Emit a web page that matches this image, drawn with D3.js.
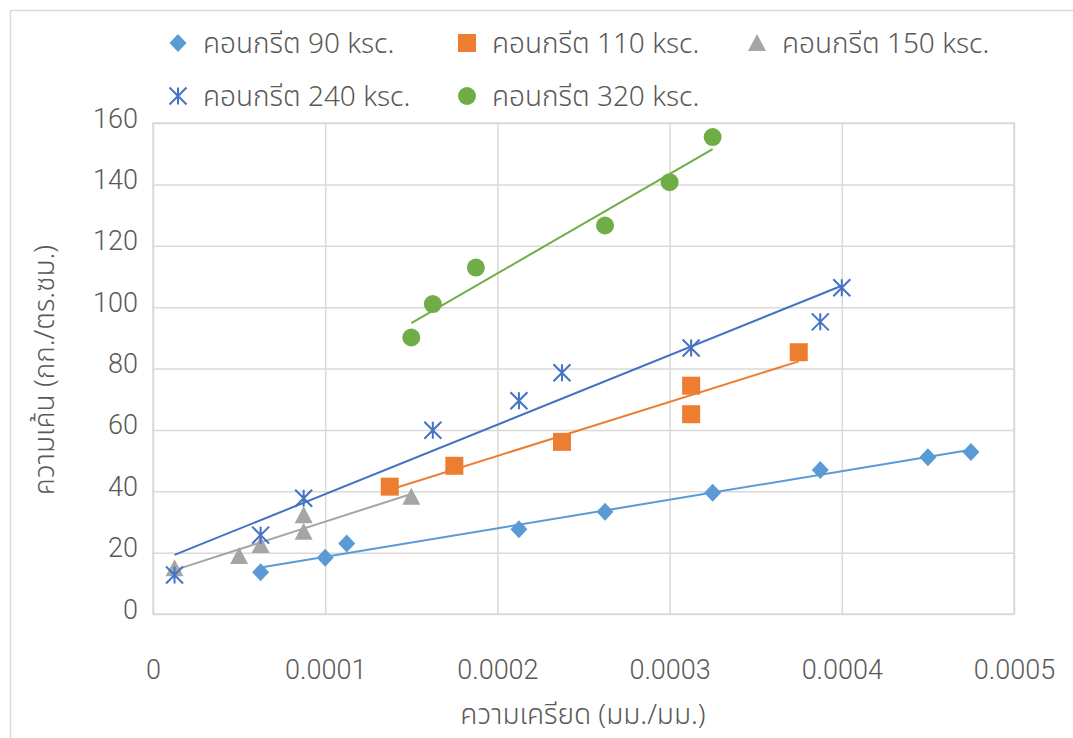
<!DOCTYPE html>
<html>
<head>
<meta charset="utf-8">
<script src="https://cdn.jsdelivr.net/npm/d3@7"></script>
<style>
  html, body { margin: 0; padding: 0; background: #ffffff; }
  svg { display: block; }
  .tick-label { font-family: Roboto, "Liberation Sans", Arial, sans-serif; font-weight: 300; font-size: 27px; fill: #595959; }
  .thai { font-family: "Noto Sans Thai", "Leelawadee UI", "Noto Sans", "DejaVu Sans", sans-serif; font-weight: 300; fill: #595959; }
</style>
</head>
<body>
<svg id="chart" width="1073" height="738"></svg>
<script>
// Strain (mm/mm) vs. stress (ksc) for five concrete strengths
const seriesNames = ["คอนกรีต 90 ksc.", "คอนกรีต 110 ksc.", "คอนกรีต 150 ksc.", "คอนกรีต 240 ksc.", "คอนกรีต 320 ksc."];

const strain90  = [0.0000625, 0.0001, 0.0001125, 0.0002125, 0.0002625, 0.000325, 0.0003875, 0.00045, 0.000475];
const stress90  = [13.6, 18.3, 23.0, 27.6, 33.3, 39.5, 46.9, 51.1, 52.8];

const strain110 = [0.0001375, 0.000175, 0.0002375, 0.0003125, 0.0003125, 0.000375];
const stress110 = [41.5, 48.3, 56.1, 74.4, 65.1, 85.3];

const strain150 = [0.0000125, 0.00005, 0.0000625, 0.0000875, 0.0000875, 0.00015];
const stress150 = [14.9, 18.9, 22.5, 26.8, 32.2, 38.2];

const strain240 = [0.0000125, 0.0000625, 0.0000875, 0.0001625, 0.0002125, 0.0002375, 0.0003125, 0.0003875, 0.0004];
const stress240 = [12.7, 25.7, 37.7, 59.9, 69.5, 78.6, 86.7, 95.2, 106.3];

const strain320 = [0.00015, 0.0001625, 0.0001875, 0.0002625, 0.0003, 0.000325];
const stress320 = [90.1, 101.0, 112.9, 126.6, 140.7, 155.4];

const xTicks = [0, 0.0001, 0.0002, 0.0003, 0.0004, 0.0005];
const xTickLabels = ["0", "0.0001", "0.0002", "0.0003", "0.0004", "0.0005"];
const yTicks = [0, 20, 40, 60, 80, 100, 120, 140, 160];

const xTitle = "ความเครียด (มม./มม.)";
const yTitle = "ความเค้น (กก./ตร.ซม.)";

const colors = ["#5B9BD5", "#ED7D31", "#A5A5A5", "#4472C4", "#70AD47"];
const markers = ["diamond", "square", "triangle", "asterisk", "circle"];

const series = [
  { xs: strain90,  ys: stress90 },
  { xs: strain110, ys: stress110 },
  { xs: strain150, ys: stress150 },
  { xs: strain240, ys: stress240 },
  { xs: strain320, ys: stress320 }
].map((s, i) => ({ name: seriesNames[i], color: colors[i], marker: markers[i],
  points: s.xs.map((x, j) => ({ x, y: s.ys[j] })) }));

const svg = d3.select("#chart");

// chart area frame
svg.append("rect")
  .attr("x", 10.5).attr("y", 10.5).attr("width", 1200).attr("height", 900)
  .attr("fill", "#ffffff").attr("stroke", "#d9d9d9").attr("stroke-width", 1.5);

const plot = { left: 153, right: 1014, top: 123, bottom: 614 };
const x = d3.scaleLinear().domain([0, 0.0005]).range([plot.left, plot.right]);
const y = d3.scaleLinear().domain([0, 160]).range([plot.bottom, plot.top]);

// gridlines via axes
const gridX = svg.append("g").attr("transform", `translate(0,${plot.bottom})`)
  .call(d3.axisBottom(x).tickValues(xTicks).tickSize(-(plot.bottom - plot.top)).tickFormat(""));
const gridY = svg.append("g").attr("transform", `translate(${plot.left},0)`)
  .call(d3.axisLeft(y).tickValues(yTicks).tickSize(-(plot.right - plot.left)).tickFormat(""));
[gridX, gridY].forEach(g => {
  g.select(".domain").remove();
  g.selectAll("line").attr("stroke", "#d9d9d9").attr("stroke-width", 1.5);
});
svg.append("rect")
  .attr("x", plot.left).attr("y", plot.top)
  .attr("width", plot.right - plot.left).attr("height", plot.bottom - plot.top)
  .attr("fill", "none").attr("stroke", "#d9d9d9").attr("stroke-width", 1.5);

// tick labels
const axX = svg.append("g").attr("transform", `translate(0,${plot.bottom})`)
  .call(d3.axisBottom(x).tickValues(xTicks).tickSize(0).tickPadding(0)
    .tickFormat((d, i) => xTickLabels[i]));
axX.select(".domain").remove();
axX.selectAll("text").attr("class", "tick-label").attr("y", 65).attr("dy", 0);

const axY = svg.append("g").attr("transform", `translate(${plot.left},0)`)
  .call(d3.axisLeft(y).tickValues(yTicks).tickSize(0).tickPadding(0));
axY.select(".domain").remove();
axY.selectAll("text").attr("class", "tick-label").attr("x", -15).attr("dy", "0.0em").attr("y", 4);

// axis titles
svg.append("text").attr("class", "thai")
  .attr("x", 583).attr("y", 724).attr("text-anchor", "middle")
  .style("font-size", "28px").text(xTitle);
svg.append("text").attr("class", "thai")
  .attr("transform", "translate(54,370) rotate(-90)").attr("text-anchor", "middle")
  .style("font-size", "28px").text(yTitle);

// least-squares trendline over each series' strain range
function fit(points) {
  const mx = d3.mean(points, p => p.x), my = d3.mean(points, p => p.y);
  const sxy = d3.sum(points, p => (p.x - mx) * (p.y - my));
  const sxx = d3.sum(points, p => (p.x - mx) ** 2);
  const b = sxy / sxx, a = my - b * mx;
  const [x0, x1] = d3.extent(points, p => p.x);
  return [{ x: x0, y: a + b * x0 }, { x: x1, y: a + b * x1 }];
}
const line = d3.line().x(d => x(d.x)).y(d => y(d.y));
series.forEach(s => {
  svg.append("path").attr("d", line(fit(s.points)))
    .attr("fill", "none").attr("stroke", s.color).attr("stroke-width", 2);
});

// marker drawing
function drawMarker(g, type, color, cx, cy) {
  if (type === "diamond") {
    g.append("path").attr("d", `M${cx},${cy - 9}L${cx + 8.5},${cy}L${cx},${cy + 9}L${cx - 8.5},${cy}Z`)
      .attr("fill", color);
  } else if (type === "square") {
    g.append("rect").attr("x", cx - 9).attr("y", cy - 9).attr("width", 18).attr("height", 18)
      .attr("fill", color);
  } else if (type === "triangle") {
    g.append("path").attr("d", `M${cx},${cy - 9}L${cx + 9},${cy + 8}L${cx - 9},${cy + 8}Z`)
      .attr("fill", color);
  } else if (type === "circle") {
    g.append("circle").attr("cx", cx).attr("cy", cy).attr("r", 9).attr("fill", color);
  } else if (type === "asterisk") {
    const r = 8.5;
    g.append("path")
      .attr("d", `M${cx},${cy - r}L${cx},${cy + r}M${cx - r},${cy - r}L${cx + r},${cy + r}M${cx - r},${cy + r}L${cx + r},${cy - r}`)
      .attr("stroke", color).attr("stroke-width", 2).attr("fill", "none");
  }
}

series.forEach(s => {
  const g = svg.append("g");
  s.points.forEach(p => drawMarker(g, s.marker, s.color, x(p.x), y(p.y)));
});

// legend
const legendPos = [[178, 43], [467, 43], [757, 43], [178, 96], [467, 96]];
series.forEach((s, i) => {
  const [lx, ly] = legendPos[i];
  const g = svg.append("g");
  drawMarker(g, s.marker, s.color, lx, ly);
  g.append("text").attr("class", "thai")
    .attr("x", lx + 25).attr("y", ly + 10)
    .style("font-size", "28px").text(s.name);
});
</script>
</body>
</html>
